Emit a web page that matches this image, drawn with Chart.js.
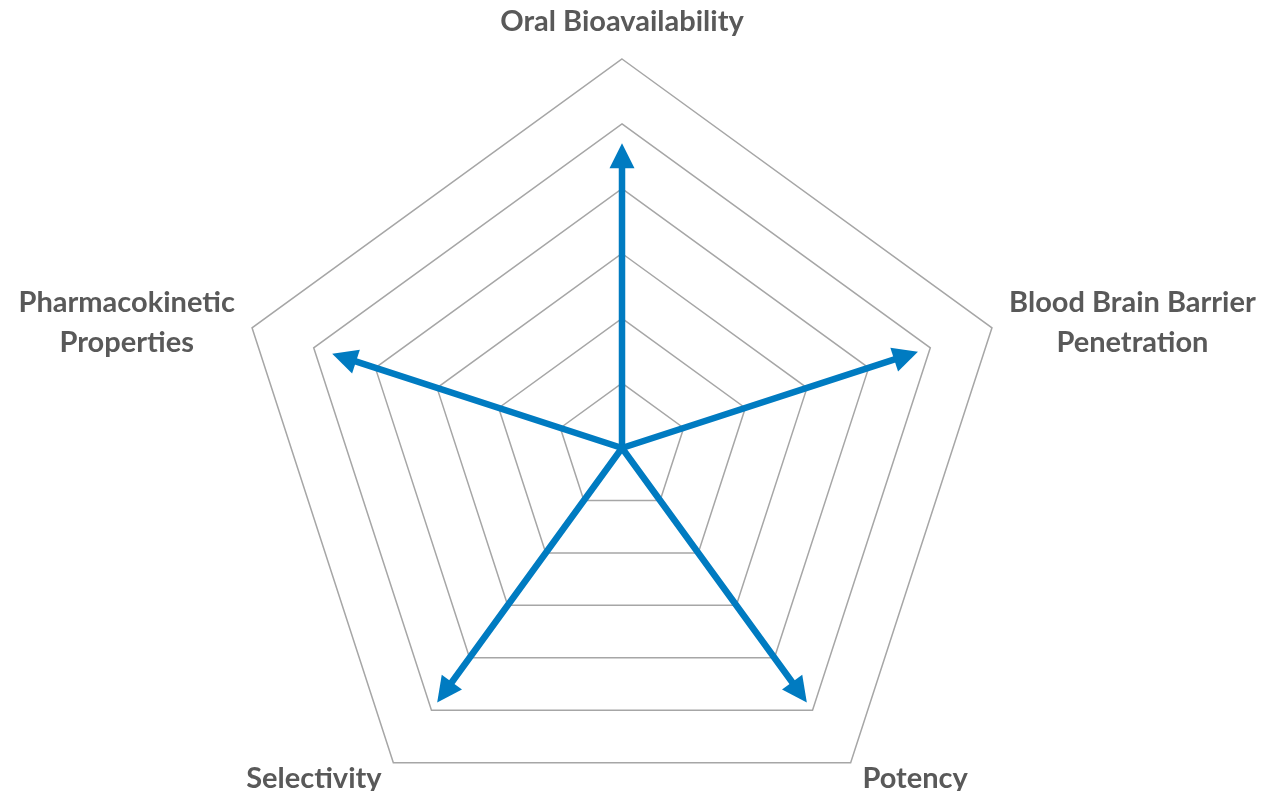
<!DOCTYPE html>
<html>
<head>
<meta charset="utf-8">
<script src="https://cdn.jsdelivr.net/npm/chart.js@4.4.0/dist/chart.umd.min.js"></script>
<style>
  html, body { margin:0; padding:0; background:#fff; overflow:hidden; }
  #wrap { position:absolute; left:0; top:0; width:1268px; height:840px; }
</style>
</head>
<body>
<div id="wrap"><canvas id="radarChart"></canvas></div>
<script>
// axis labels (one entry per spoke, split into text lines)
const categories = [
  ['Oral Bioavailability'],
  ['Blood Brain Barrier', 'Penetration'],
  ['Potency'],
  ['Selectivity'],
  ['Pharmacokinetic', 'Properties']
];
// arrow lengths (0..6)
const scores = [4.7, 4.8, 4.85, 4.85, 4.7];
// ring levels
const ringTicks = [0, 1, 2, 3, 4, 5, 6];

const BLUE = '#007BC1';
const TEXT = '#595959';

// arrows from the centre to each score point
const arrowPlugin = {
  id: 'arrows',
  afterDatasetsDraw(chart) {
    const scale = chart.scales.r;
    const ctx = chart.ctx;
    const cx = scale.xCenter, cy = scale.yCenter;
    const meta = chart.getDatasetMeta(0);
    ctx.save();
    ctx.strokeStyle = BLUE;
    ctx.fillStyle = BLUE;
    ctx.lineWidth = 6.5;
    ctx.lineCap = 'round';
    meta.data.forEach(pt => {
      const dx = pt.x - cx, dy = pt.y - cy;
      const len = Math.hypot(dx, dy);
      const ux = dx / len, uy = dy / len;
      const head = 25, half = 12.5;
      const bx = pt.x - ux * head, by = pt.y - uy * head;
      ctx.beginPath();
      ctx.moveTo(cx, cy);
      ctx.lineTo(bx + ux * 2, by + uy * 2);
      ctx.stroke();
      ctx.beginPath();
      ctx.moveTo(pt.x, pt.y);
      ctx.lineTo(bx - uy * half, by + ux * half);
      ctx.lineTo(bx + uy * half, by - ux * half);
      ctx.closePath();
      ctx.fill();
    });
    ctx.restore();
  }
};

// axis labels, placed like the original (centred on the spoke's end)
const labelPlugin = {
  id: 'axisLabels',
  afterDraw(chart) {
    const scale = chart.scales.r;
    const ctx = chart.ctx;
    const offsets = [37, 18, 20, 20, 18];
    const lineH = 40;
    ctx.save();
    ctx.font = 'bold 29px Lato';
    ctx.fillStyle = TEXT;
    ctx.textAlign = 'center';
    ctx.textBaseline = 'middle';
    categories.forEach((lines, i) => {
      const p = scale.getPointPosition(i, scale.drawingArea + offsets[i]);
      const w = Math.max(...lines.map(l => ctx.measureText(l).width));
      let x = p.x;
      if (p.x - scale.xCenter > 1) x = p.x + w / 2;
      else if (p.x - scale.xCenter < -1) x = p.x - w / 2;
      lines.forEach((l, k) => {
        ctx.fillText(l, x, p.y + (k - (lines.length - 1) / 2) * lineH);
      });
    });
    ctx.restore();
  }
};

function render() {
  new Chart(document.getElementById('radarChart'), {
    type: 'radar',
    data: {
      labels: categories.map(c => c.join(' ')),
      datasets: [{
        label: 'Profile',
        data: scores,
        borderWidth: 0,
        borderColor: 'transparent',
        backgroundColor: 'transparent',
        pointRadius: 0
      }]
    },
    options: {
      responsive: true,
      maintainAspectRatio: false,
      animation: false,
      layout: { padding: { top: 59, bottom: 3, left: 0, right: 24 } },
      plugins: { legend: { display: false }, tooltip: { enabled: false } },
      scales: {
        r: {
          min: ringTicks[0],
          max: ringTicks[ringTicks.length - 1],
          startAngle: 0,
          ticks: { stepSize: ringTicks[1] - ringTicks[0], display: false },
          grid: { color: '#A6A6A6', lineWidth: 1.5 },
          angleLines: { display: false },
          pointLabels: { display: false }
        }
      }
    },
    plugins: [arrowPlugin, labelPlugin]
  });
}

document.addEventListener('DOMContentLoaded', () => setTimeout(render, 10));
</script>
</body>
</html>
